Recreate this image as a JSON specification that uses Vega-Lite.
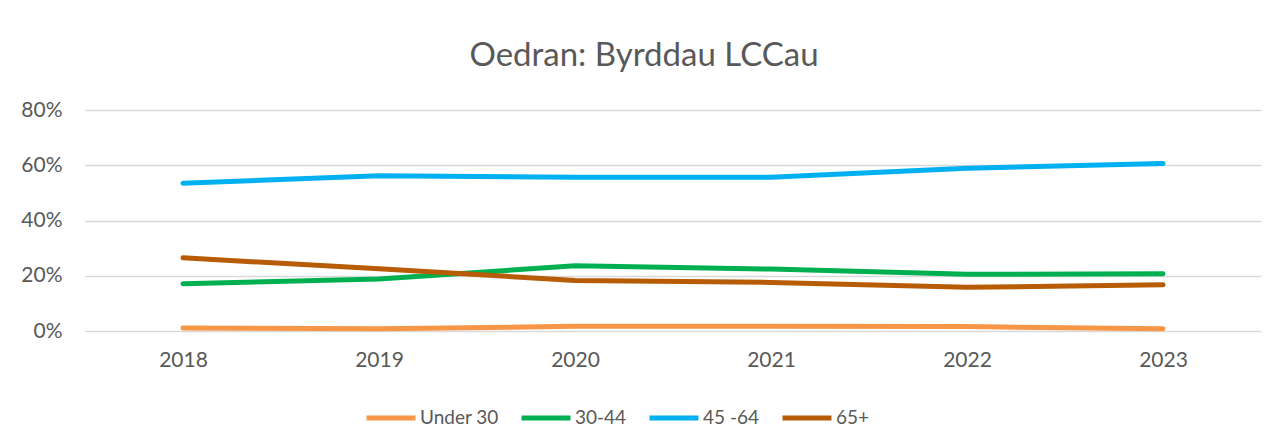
{
  "$schema": "https://vega.github.io/schema/vega-lite/v6.json",
  "autosize": {"type": "none"},
  "width": 1176,
  "height": 221,
  "padding": {"left": 85, "top": 110, "right": 27, "bottom": 115},
  "background": "white",
  "title": {
    "text": "Oedran: Byrddau LCCau",
    "font": "Lato",
    "fontSize": 33,
    "fontWeight": "normal",
    "color": "#595959",
    "anchor": "middle",
    "dx": -29,
    "offset": 26
  },
  "data": {
    "values": [
      {"year": "2018", "group": "Under 30", "value": 0.011},
      {"year": "2019", "group": "Under 30", "value": 0.008},
      {"year": "2020", "group": "Under 30", "value": 0.017},
      {"year": "2021", "group": "Under 30", "value": 0.017},
      {"year": "2022", "group": "Under 30", "value": 0.016},
      {"year": "2023", "group": "Under 30", "value": 0.008},
      {"year": "2018", "group": "30-44", "value": 0.171},
      {"year": "2019", "group": "30-44", "value": 0.188},
      {"year": "2020", "group": "30-44", "value": 0.236},
      {"year": "2021", "group": "30-44", "value": 0.224},
      {"year": "2022", "group": "30-44", "value": 0.205},
      {"year": "2023", "group": "30-44", "value": 0.207},
      {"year": "2018", "group": "45 -64", "value": 0.535},
      {"year": "2019", "group": "45 -64", "value": 0.562},
      {"year": "2020", "group": "45 -64", "value": 0.557},
      {"year": "2021", "group": "45 -64", "value": 0.557},
      {"year": "2022", "group": "45 -64", "value": 0.589},
      {"year": "2023", "group": "45 -64", "value": 0.606},
      {"year": "2018", "group": "65+", "value": 0.265},
      {"year": "2019", "group": "65+", "value": 0.225},
      {"year": "2020", "group": "65+", "value": 0.183},
      {"year": "2021", "group": "65+", "value": 0.176},
      {"year": "2022", "group": "65+", "value": 0.158},
      {"year": "2023", "group": "65+", "value": 0.167}
    ]
  },
  "mark": {"type": "line", "strokeWidth": 5, "strokeCap": "round", "strokeJoin": "round"},
  "encoding": {
    "x": {
      "field": "year",
      "type": "ordinal",
      "scale": {"type": "point", "padding": 0.5},
      "axis": {
        "title": null,
        "labelAngle": 0,
        "domain": false,
        "ticks": false,
        "labelPadding": 18,
        "labelFont": "Lato",
        "labelFontSize": 21,
        "labelColor": "#595959"
      }
    },
    "y": {
      "field": "value",
      "type": "quantitative",
      "scale": {"domain": [0, 0.8], "nice": false},
      "axis": {
        "title": null,
        "format": ".0%",
        "values": [0, 0.2, 0.4, 0.6, 0.8],
        "domain": false,
        "ticks": false,
        "labelPadding": 23,
        "labelFont": "Lato",
        "labelFontSize": 21,
        "labelColor": "#595959",
        "gridColor": "#D9D9D9",
        "gridWidth": 1.5
      }
    },
    "color": {
      "field": "group",
      "type": "nominal",
      "scale": {
        "domain": ["Under 30", "30-44", "45 -64", "65+"],
        "range": ["#F79646", "#00B050", "#00B0F0", "#B85B05"]
      },
      "legend": {
        "title": null,
        "orient": "none",
        "direction": "horizontal",
        "legendX": 279,
        "legendY": 281,
        "symbolType": "stroke",
        "symbolSize": 2400,
        "symbolStrokeWidth": 5,
        "labelFont": "Lato",
        "labelFontSize": 19,
        "labelColor": "#595959",
        "labelOffset": 2,
        "columnPadding": 12
      }
    }
  },
  "config": {"view": {"stroke": null}}
}
